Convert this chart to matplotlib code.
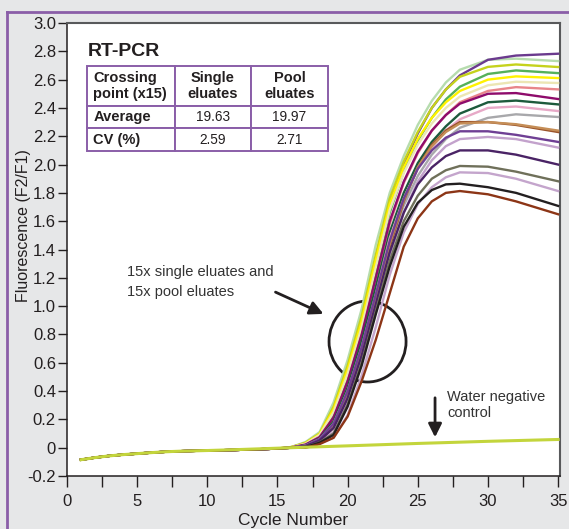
import numpy as np
import matplotlib
matplotlib.use('Agg')
import matplotlib.pyplot as plt
from matplotlib.patches import Ellipse
from matplotlib.lines import Line2D

plt.rcParams['font.family'] = ['Liberation Sans', 'DejaVu Sans']

# shared baseline (cycles 1-15)
base_cycles = [1, 2, 3, 4, 5, 6, 7, 8, 10, 12, 14, 15]
base_values = [-0.085, -0.07, -0.058, -0.049, -0.042, -0.035, -0.029, -0.025, -0.02, -0.016, -0.01, -0.006]

# per-curve readings from cycle 16 on
curve_cycles = [16, 17, 18, 19, 20, 21, 22, 23, 24, 25, 26, 27, 28, 30, 32, 35]

light_green = [0.005, 0.04, 0.11, 0.32, 0.62, 0.98, 1.43, 1.80, 2.06, 2.28, 2.45, 2.58, 2.67, 2.74, 2.748, 2.731]
purple_top = [0.004, 0.03, 0.092, 0.26, 0.53, 0.87, 1.30, 1.74, 2.00, 2.22, 2.40, 2.53, 2.63, 2.74, 2.77, 2.783]
lime = [0.005, 0.035, 0.10, 0.29, 0.58, 0.93, 1.36, 1.76, 2.02, 2.23, 2.40, 2.53, 2.62, 2.69, 2.707, 2.689]
green = [0.003, 0.026, 0.085, 0.24, 0.50, 0.83, 1.25, 1.66, 1.95, 2.17, 2.33, 2.46, 2.55, 2.64, 2.665, 2.646]
yellow = [0.004, 0.03, 0.095, 0.27, 0.55, 0.89, 1.32, 1.72, 1.98, 2.18, 2.33, 2.44, 2.52, 2.60, 2.623, 2.611]
beige = [0.003, 0.028, 0.09, 0.25, 0.52, 0.85, 1.27, 1.68, 1.94, 2.14, 2.29, 2.40, 2.48, 2.56, 2.585, 2.576]
salmon = [0.002, 0.02, 0.072, 0.205, 0.455, 0.78, 1.18, 1.58, 1.87, 2.08, 2.24, 2.35, 2.44, 2.52, 2.547, 2.531]
magenta = [0.002, 0.022, 0.075, 0.215, 0.47, 0.80, 1.20, 1.60, 1.88, 2.09, 2.24, 2.35, 2.43, 2.50, 2.505, 2.463]
dark_green = [0.0, 0.017, 0.065, 0.185, 0.425, 0.75, 1.13, 1.52, 1.80, 2.01, 2.16, 2.27, 2.36, 2.44, 2.452, 2.425]
pink = [0.0, 0.015, 0.06, 0.17, 0.40, 0.71, 1.08, 1.48, 1.76, 1.97, 2.12, 2.24, 2.32, 2.40, 2.41, 2.378]
grey = [0.0, 0.012, 0.05, 0.15, 0.37, 0.67, 1.04, 1.43, 1.71, 1.92, 2.07, 2.18, 2.26, 2.33, 2.355, 2.336]
brown = [0.0, 0.01, 0.05, 0.14, 0.35, 0.65, 1.01, 1.42, 1.74, 1.98, 2.14, 2.24, 2.30, 2.30, 2.28, 2.23]
tan = [0.0, 0.012, 0.05, 0.15, 0.37, 0.67, 1.04, 1.44, 1.75, 1.98, 2.13, 2.23, 2.29, 2.30, 2.285, 2.24]
purple_mid = [0.0, 0.015, 0.06, 0.17, 0.40, 0.71, 1.08, 1.46, 1.76, 1.97, 2.10, 2.19, 2.235, 2.235, 2.21, 2.16]
lilac = [0.0, 0.005, 0.04, 0.11, 0.32, 0.62, 0.98, 1.36, 1.66, 1.88, 2.03, 2.13, 2.18, 2.195, 2.18, 2.12]
dark_purple = [0.0, 0.01, 0.05, 0.14, 0.35, 0.65, 1.01, 1.38, 1.66, 1.86, 1.98, 2.06, 2.10, 2.10, 2.07, 2.00]
olive = [0.0, 0.005, 0.038, 0.10, 0.305, 0.60, 0.96, 1.32, 1.60, 1.78, 1.90, 1.96, 1.99, 1.985, 1.95, 1.882]
lilac2 = [0.0, 0.0, 0.03, 0.07, 0.23, 0.51, 0.85, 1.22, 1.52, 1.72, 1.84, 1.91, 1.945, 1.94, 1.90, 1.813]
black = [0.0, 0.005, 0.035, 0.09, 0.29, 0.58, 0.94, 1.28, 1.56, 1.73, 1.82, 1.86, 1.865, 1.84, 1.80, 1.708]
brown_red = [0.0, 0.0, 0.025, 0.07, 0.22, 0.47, 0.76, 1.09, 1.42, 1.62, 1.74, 1.80, 1.813, 1.79, 1.74, 1.649]

curves = [light_green, purple_top, lime, green, yellow, beige, salmon, magenta, dark_green, pink,
          grey, brown, tan, purple_mid, lilac, dark_purple, olive, lilac2, black, brown_red]
colors = ['#b6dcae', '#6b3a8e', '#c5d21c', '#55b05a', '#fff200', '#ece6b4', '#e8868a', '#8e0b6b',
          '#1d5a3c', '#e7a9c7', '#a8a8ab', '#9a5229', '#c58e57', '#6f3f94', '#c3a2cc', '#4a2365',
          '#6f705a', '#c4a5cc', '#231f20', '#8c3516']

water_cycles = [1, 2, 3, 4, 5, 6, 7, 8, 10, 12, 14, 16, 20, 25, 30, 35]
water_values = [-0.085, -0.07, -0.058, -0.049, -0.042, -0.035, -0.029, -0.025, -0.02, -0.014, -0.007, 0.0, 0.013, 0.03, 0.045, 0.058]

ytick_vals = [-0.2, 0, 0.2, 0.4, 0.6, 0.8, 1.0, 1.2, 1.4, 1.6, 1.8, 2.0, 2.2, 2.4, 2.6, 2.8, 3.0]
ytick_labels = ['-0.2', '0', '0.2', '0.4', '0.6', '0.8', '1.0', '1.2', '1.4', '1.6', '1.8', '2.0',
                '2.2', '2.4', '2.6', '2.8', '3.0']

table_rows = [['Crossing\npoint (x15)', 'Single\neluates', 'Pool\neluates'],
              ['Average', '19.63', '19.97'],
              ['CV (%)', '2.59', '2.71']]

purple = '#8a5ea8'
ink = '#231f20'

fig = plt.figure(figsize=(5.69, 5.29), dpi=100, facecolor='#e6e7e8')
ax = fig.add_axes([67/569, 1-476/529, 492.5/569, 453/529])
ax.set_facecolor('white')
ax.set_xlim(0, 35.1)
ax.set_ylim(-0.2, 3.0)

for vals, col in zip(curves, colors):
    ax.plot(base_cycles + curve_cycles, base_values + vals, color=col, lw=1.7, zorder=3)
ax.plot(water_cycles, water_values, color='#c3d53c', lw=2.2, zorder=4)

ax.set_xticks(range(0, 36, 5))
ax.set_xticks(np.arange(2.5, 35, 5), minor=True)
ax.set_yticks(ytick_vals)
ax.set_yticklabels(ytick_labels)
ax.tick_params(which='both', direction='out', width=1, color=ink, labelcolor=ink)
ax.tick_params(axis='x', which='both', length=8, pad=5, labelsize=12)
ax.tick_params(axis='y', length=6.5, pad=1.5, labelsize=12)
for s in ['left', 'bottom']:
    ax.spines[s].set_color(ink)
    ax.spines[s].set_linewidth(1.1)
for s in ['top', 'right']:
    ax.spines[s].set_color('#58595b')
    ax.spines[s].set_linewidth(1.5)

fig.text(293.5/569, 1-520/529, 'Cycle Number', ha='center', va='center', fontsize=12.5, color=ink)
fig.text(24/569, 1-226/529, 'Fluorescence (F2/F1)', ha='center', va='center', rotation=90,
         fontsize=11.5, color=ink)

# purple frame on top and left
fig.add_artist(Line2D([7/569, 7/569], [0, 1-11.5/529], transform=fig.transFigure, color=purple, lw=2))
fig.add_artist(Line2D([7/569, 1], [1-11.5/529, 1-11.5/529], transform=fig.transFigure, color=purple, lw=2))

# title and table
ax.text(0.0426, 0.936, 'RT-PCR', transform=ax.transAxes, fontsize=14, fontweight='bold',
        ha='left', va='center', color=ink)
tbl = ax.table(cellText=table_rows, colWidths=[88, 76, 77], cellLoc='center',
               bbox=[20/492.5, 325/453, 241/492.5, 85/453])
tbl.auto_set_font_size(False)
row_h = [40, 22, 23]
for (r, c), cell in tbl.get_celld().items():
    cell.set_edgecolor(purple)
    cell.set_linewidth(1.4)
    cell.set_height(row_h[r])
    t = cell.get_text()
    t.set_color(ink)
    t.set_linespacing(1.15)
    if r == 0 or c == 0:
        t.set_fontweight('bold')
        t.set_fontsize(10.5)
    else:
        t.set_fontsize(9.8)
    if c == 0:
        cell._loc = 'left'
        cell.PAD = 0.07
        t.set_horizontalalignment('left')

# annotations
ax.text(4.28, 1.17, '15x single eluates and\n15x pool eluates', fontsize=10.5, color='#333333',
        ha='left', va='center', linespacing=1.55)
ax.annotate('', xy=(18.46, 0.937), xytext=(14.68, 1.107),
            arrowprops=dict(arrowstyle='-|>', lw=2, color=ink, mutation_scale=20))
ax.add_patch(Ellipse((21.42, 0.75), 5.49, 0.572, fill=False, lw=2, edgecolor=ink, zorder=2))

ax.annotate('', xy=(26.23, 0.054), xytext=(26.23, 0.372),
            arrowprops=dict(arrowstyle='-|>', lw=2, color=ink, mutation_scale=20))
ax.text(27.08, 0.302, 'Water negative\ncontrol', fontsize=10.5, color='#333333',
        ha='left', va='center', linespacing=1.15)

fig.savefig('out.png', dpi=100, facecolor=fig.get_facecolor())
